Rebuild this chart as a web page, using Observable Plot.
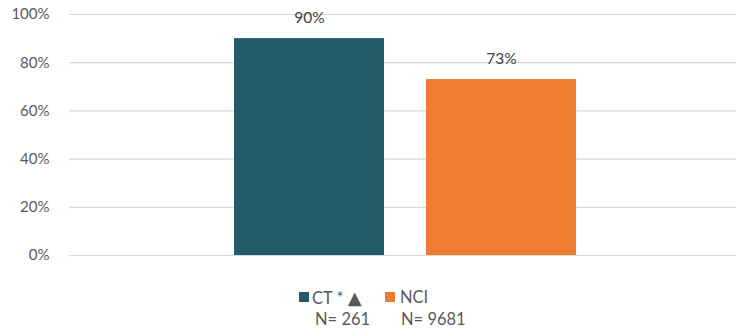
<!DOCTYPE html>
<html>
<head>
<meta charset="utf-8">
<script src="https://cdn.jsdelivr.net/npm/d3@7"></script>
<script src="https://cdn.jsdelivr.net/npm/@observablehq/plot@0.6"></script>
<style>
  body { margin: 0; background: #fff; font-family: Lato, "Open Sans", sans-serif; }
  #wrap { position: relative; width: 736px; height: 332px; }
  .leg { position: absolute; font-size: 16.5px; color: #595959; white-space: nowrap; line-height: 1; }
  .tri { font-family: "DejaVu Sans", sans-serif; font-size: 18px; }
  .sw { position: absolute; width: 10px; height: 10px; }
</style>
</head>
<body>
<div id="wrap"></div>
<script>
const categories = ["CT", "NCI"];
const values = [90, 73];
const colors = ["#235B6B", "#ED7D31"];
const yTicks = [0, 20, 40, 60, 80, 100];
const legendNames = ["CT * ▲", "NCI"];
const legendN = ["N= 261", "N= 9681"];

const data = categories.map((c, i) => ({cat: c, value: values[i], color: colors[i]}));

const chart = Plot.plot({
  width: 736,
  height: 280,
  marginLeft: 69,
  marginRight: 0,
  marginTop: 14,
  marginBottom: 25,
  style: {fontFamily: "Lato, 'Open Sans', sans-serif", fontSize: "15px", background: "#fff"},
  x: {domain: categories, paddingInner: 0.219, paddingOuter: 0.846, align: 0.507, axis: null},
  y: {domain: [0, 100], ticks: yTicks, tickFormat: d => d + "%", tickSize: 0, tickPadding: 20, label: null},
  marks: [
    Plot.ruleY(yTicks, {stroke: "#d9d9d9", strokeWidth: 1.2}),
    Plot.barY(data, {x: "cat", y: "value", fill: "color"}),
    Plot.text(data, {x: "cat", y: "value", text: d => d.value + "%", dy: -21, fill: "#404040", fontSize: 15.5}),
    Plot.axisY({ticks: yTicks, tickFormat: d => d + "%", tickSize: 0, tickPadding: 20, color: "#595959", fontSize: 15})
  ]
});
chart.style.position = "absolute";
chart.style.left = "0px";
chart.style.top = "0px";
const wrap = document.getElementById("wrap");
wrap.appendChild(chart);

// Legend (HTML, below the SVG)
const swX = [299, 385];
const txtX = [312, 400];
const nX = [315, 401];
categories.forEach((c, i) => {
  const sw = document.createElement("div");
  sw.className = "sw";
  sw.style.left = swX[i] + "px";
  sw.style.top = "292px";
  sw.style.background = colors[i];
  wrap.appendChild(sw);
  const t = document.createElement("div");
  t.className = "leg";
  t.style.left = txtX[i] + "px";
  t.style.top = "289px";
  const name = legendNames[i];
  if (name.includes("▲")) {
    const parts = name.split("▲");
    t.appendChild(document.createTextNode(parts[0]));
    const s = document.createElement("span");
    s.className = "tri";
    s.textContent = "▲";
    t.appendChild(s);
    t.appendChild(document.createTextNode(parts[1]));
  } else {
    t.textContent = name;
  }
  wrap.appendChild(t);
  const n = document.createElement("div");
  n.className = "leg";
  n.style.left = nX[i] + "px";
  n.style.top = "311px";
  n.textContent = legendN[i];
  wrap.appendChild(n);
});
</script>
</body>
</html>
